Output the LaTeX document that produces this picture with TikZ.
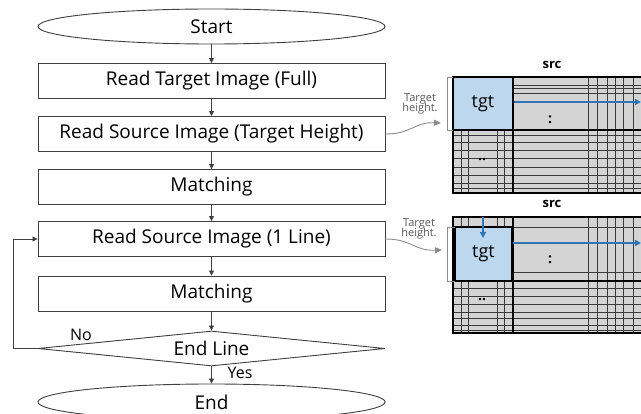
\documentclass[tikz,border=0pt]{standalone}
\usepackage{fontspec}
\setmainfont{Open Sans}
\usetikzlibrary{shapes.geometric,arrows.meta}
\definecolor{lineblk}{HTML}{404040}
\definecolor{gridfill}{HTML}{D4D4D4}
\definecolor{gridln}{HTML}{3A3A3A}
\definecolor{tgtfill}{HTML}{BDD7EE}
\definecolor{bluearr}{HTML}{2E75B6}
\definecolor{grayarr}{HTML}{8C8C8C}
\tikzset{
  flowbox/.style={draw=lineblk, line width=0.9pt, rectangle, minimum width=347pt, minimum height=35pt, inner sep=0pt, font=\fontsize{19}{22}\selectfont},
  termbox/.style={draw=lineblk, line width=0.9pt, ellipse, minimum width=347pt, minimum height=35pt, inner sep=0pt, font=\fontsize{19}{22}\selectfont},
  decbox/.style={draw=lineblk, line width=0.9pt, diamond, shape aspect=9.9, minimum width=347pt, minimum height=35pt, inner sep=0pt, font=\fontsize{19}{22}\selectfont},
  flowarr/.style={draw=lineblk, line width=0.8pt, -{Triangle[width=5pt,length=5pt]}},
  lbl/.style={font=\fontsize{16}{18}\selectfont, inner sep=0pt},
  gridl/.style={draw=gridln, line width=0.6pt},
  tgtbox/.style={draw=black, line width=1.2pt, fill=tgtfill, inner sep=0pt, font=\fontsize{18}{20}\selectfont},
  bluearrow/.style={draw=bluearr, line width=1.8pt, -{Triangle[width=6pt,length=6pt]}},
  grayarrow/.style={draw=grayarr, line width=0.9pt, -{Triangle[width=6pt,length=7pt]}},
  bracket/.style={draw=grayarr, line width=0.9pt},
  small/.style={font=\fontsize{11}{11}\selectfont, text=black!65, align=center, inner sep=0pt},
  srclbl/.style={font=\fontsize{13}{14}\bfseries\selectfont, inner sep=0pt},
  dots/.style={font=\fontsize{14}{14}\bfseries\selectfont, inner sep=0pt}
}
\begin{document}
\begin{tikzpicture}[x=1pt,y=-1pt]
\useasboundingbox (0,0) rectangle (641,414);
\fill[white] (0,0) rectangle (641,414);

% ---------- flowchart ----------
\node[termbox] (start) at (211.5,26.5) {Start};
\node[flowbox] (rt) at (211.5,81) {Read Target Image (Full)};
\node[flowbox] (rs) at (211.5,134) {Read Source Image (Target Height)};
\node[flowbox] (m1) at (211.5,187) {Matching};
\node[flowbox] (rl) at (211.5,239) {Read Source Image (1 Line)};
\node[flowbox] (m2) at (211.5,293.5) {Matching};
\node[decbox] (dec) at (211.5,348.5) {End Line};
\node[termbox, minimum height=36pt] (end) at (211.5,402) {End};

\draw[flowarr] (start) -- (rt);
\draw[flowarr] (rt) -- (rs);
\draw[flowarr] (rs) -- (m1);
\draw[flowarr] (m1.south) -- (rl.north);
\draw[flowarr] (rl) -- (m2);
\draw[flowarr] (m2.south) -- (dec.north);
\draw[flowarr] (dec.south) -- (end.north);
\draw[flowarr] (dec.west) -- ++(-24,0) |- (rl.west);
\node[lbl] (no) at (81,335) {No};
\node[lbl] (yes) at (240,373) {Yes};

% ---------- panel 1 ----------
\begin{scope}
\clip (440,60) rectangle (641,200);
\fill[gridfill] (453,77) rectangle (660,193);
\foreach \x in {135,144,154,162,170,180}
  \draw[gridl] (453+\x,77) -- (453+\x,193);
\foreach \y in {8,11,16}
  \draw[gridl] (513,77+\y) -- (660,77+\y);
\foreach \y in {58,65,73,81,90,98,106,111}
  \draw[gridl] (453,77+\y) -- (660,77+\y);
\foreach \x in {8,15,44,51}
  \draw[gridl] (453+\x,130) -- (453+\x,193);
\draw[black, line width=1.2pt] (513,77) -- (513,193);
\draw[black, line width=1.2pt] (453,130) -- (660,130);
\draw[black, line width=1.4pt] (660,77) -- (453,77) -- (453,193) -- (660,193);
\node[tgtbox, minimum width=60pt, minimum height=53pt] (tgt1) at (483,103.5) {tgt};
\coordinate (r1) at (641,102);
\draw[bluearrow] (tgt1.east |- r1) -- (r1);
\end{scope}
\node[srclbl] (src1) at (552,65) {src};
\node[dots] (d1a) at (550,120) {:};
\node[dots] (d1b) at (482,160) {..};
\draw[bracket] (453,77) -- (447,77) -- (447,130) -- (453,130);
\node[small] (th1) at (420,104) {Target\\[-1pt]height.};
\coordinate (b1) at (441,123);
\draw[grayarrow] (rs.east) .. controls (412,134) and (414,122) .. (b1);

% ---------- panel 2 ----------
\begin{scope}
\clip (440,200) rectangle (641,340);
\fill[gridfill] (453,217) rectangle (660,333);
\foreach \x in {135,144,154,162,170,180}
  \draw[gridl] (453+\x,217) -- (453+\x,333);
\foreach \y in {10,55}
  \draw[gridl] (513,217+\y) -- (660,217+\y);
\foreach \y in {71,79,87,95,101,108,113}
  \draw[gridl] (453,217+\y) -- (660,217+\y);
\foreach \x in {8,15,44,51} {
  \draw[gridl] (453+\x,217) -- (453+\x,227);
  \draw[gridl] (453+\x,281) -- (453+\x,333);
}
\draw[black, line width=1.2pt] (513,217) -- (513,333);
\draw[black, line width=1.2pt] (453,281) -- (660,281);
\draw[black, line width=1.4pt] (660,217) -- (453,217) -- (453,333) -- (660,333);
\node[tgtbox, minimum width=57pt, minimum height=54pt] (tgt2) at (483.5,254) {tgt};
\coordinate (r2) at (641,243);
\draw[bluearrow] (tgt2.east |- r2) -- (r2);
\coordinate (dtop) at (483,217);
\draw[bluearrow] (dtop) -- (483,238);
\end{scope}
\node[srclbl] (src2) at (552,204) {src};
\node[dots] (d2a) at (550,260) {:};
\node[dots] (d2b) at (482,300) {..};
\draw[bracket] (455,227) -- (447,227) -- (447,281) -- (455,281);
\node[small] (th2) at (419,229) {Target\\[-1pt]height.};
\coordinate (b2) at (442,250);
\draw[grayarrow] (rl.east) .. controls (412,239) and (414,251) .. (b2);
\end{tikzpicture}
\end{document}
